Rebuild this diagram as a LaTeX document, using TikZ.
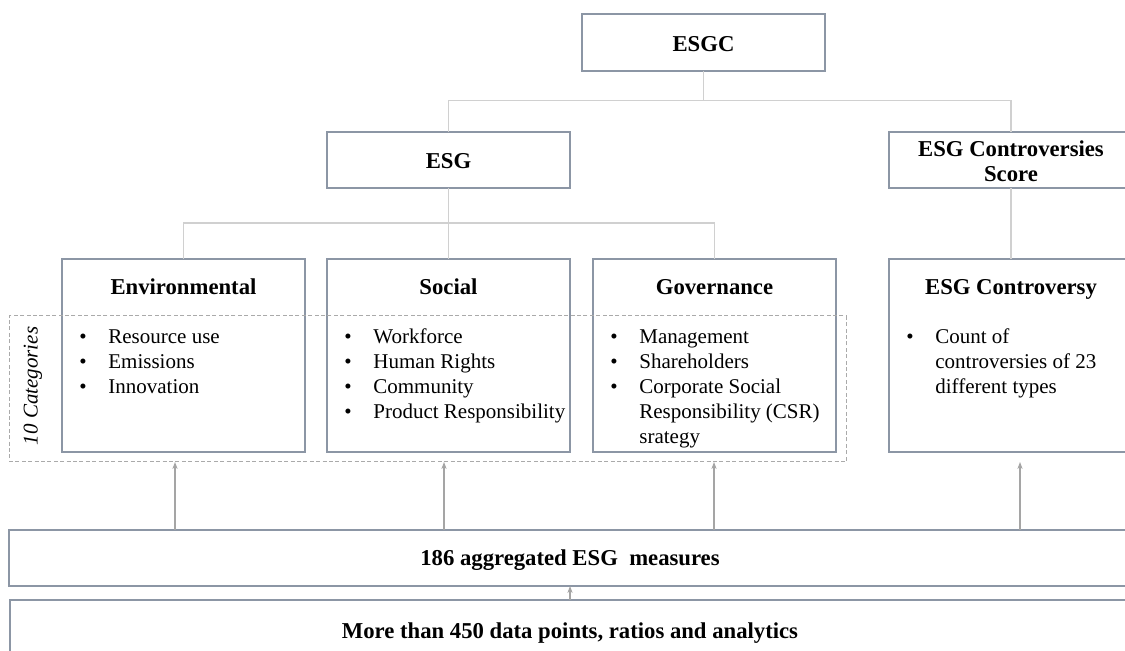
\documentclass[tikz,border=0pt]{standalone}
\usepackage{fontspec}
\setmainfont{Liberation Serif}
\usetikzlibrary{arrows.meta}
\definecolor{boxc}{RGB}{140,150,165}
\definecolor{connc}{RGB}{208,208,208}
\definecolor{arrc}{RGB}{165,165,165}
\definecolor{dashc}{RGB}{170,170,170}
\newcommand{\bul}{\makebox[14.5pt][l]{\textbullet}}
\newcommand{\nobul}{\hspace*{14.5pt}}
\begin{document}
\begin{tikzpicture}[x=0.5pt,y=-0.5pt,
  box/.style={draw=boxc,line width=1pt,inner sep=0pt,outer sep=0pt,rectangle,fill=none},
  dashbox/.style={draw=dashc,line width=0.5pt,dash pattern=on 2pt off 1.2pt,inner sep=0pt,outer sep=0pt,rectangle},
  conn/.style={draw=connc,line width=0.7pt},
  arr/.style={draw=arrc,line width=0.6pt,-{Stealth[length=3.5pt,width=2.6pt]}},
  ttl/.style={font=\fontsize{11.35}{12.5}\selectfont\bfseries,inner sep=0pt,anchor=base},
  lst/.style={font=\fontsize{10.5}{12.5}\selectfont,inner sep=0pt,anchor=base west},
]
\useasboundingbox (0,0) rectangle (1125,651);
\clip (0,0) rectangle (1125,651);

% boxes
\node[box,minimum width=121.5pt,minimum height=28.5pt] (esgc) at (703.5,42.5) {};
\node[box,minimum width=121.5pt,minimum height=28pt] (esg) at (448.5,160) {};
\node[box,minimum width=122pt,minimum height=28pt] (esgcs) at (1011,160) {};
\node[box,minimum width=121.5pt,minimum height=96.5pt] (env) at (183.5,355.5) {};
\node[box,minimum width=121.5pt,minimum height=96.5pt] (soc) at (448.5,355.5) {};
\node[box,minimum width=121.5pt,minimum height=96.5pt] (gov) at (714.5,355.5) {};
\node[box,minimum width=122pt,minimum height=96.5pt] (contr) at (1011,355.5) {};
\node[dashbox,minimum width=418.5pt,minimum height=73pt] (cat) at (427.5,389) {};
\node[box,minimum width=561pt,minimum height=28pt] (agg) at (570,558) {};
\node[box,minimum width=560pt,minimum height=30pt] (bot) at (570,630.5) {};

% titles
\node[ttl] (esgct) at (703.5,51.5) {ESGC};
\node[ttl] (esgt) at (448.5,169) {ESG};
\node[ttl] (esgcst) at (1011,157) {\begin{tabular}[t]{@{}c@{}}ESG Controversies\\Score\end{tabular}};
\node[ttl] (envt) at (183.5,295) {Environmental};
\node[ttl] (soct) at (448.5,295) {Social};
\node[ttl] (govt) at (714.5,295) {Governance};
\node[ttl] (contrt) at (1011,295) {ESG Controversy};
\node[ttl] (aggt) at (570,565.5) {186 aggregated ESG\ \ measures};
\node[ttl] (bott) at (570,639) {More than 450 data points, ratios and analytics};

% lists
\node[lst] (envl) at (79,344) {\begin{tabular}[t]{@{}l@{}}\bul Resource use\\\bul Emissions\\\bul Innovation\end{tabular}};
\node[lst] (socl) at (344,344) {\begin{tabular}[t]{@{}l@{}}\bul Workforce\\\bul Human Rights\\\bul Community\\\bul Product Responsibility\end{tabular}};
\node[lst] (govl) at (610,344) {\begin{tabular}[t]{@{}l@{}}\bul Management\\\bul Shareholders\\\bul Corporate Social\\\nobul Responsibility (CSR)\\\nobul srategy\end{tabular}};
\node[lst] (contrl) at (906,344) {\begin{tabular}[t]{@{}l@{}}\bul Count of\\\nobul controversies of 23\\\nobul different types\end{tabular}};

\node[rotate=90,inner sep=0pt,font=\fontsize{10.5}{12.5}\selectfont\itshape] (catl) at (33,386) {10 Categories};

% connectors
\coordinate (j1) at (703.5,100.7);
\coordinate (j2) at (448.5,223);
\draw[conn] (esgc.south) -- (j1);
\draw[conn] (esg.north) -- (esg.north |- j1) -- (esgcs.north |- j1) -- (esgcs.north);
\draw[conn] (esg.south) -- (soc.north);
\draw[conn] (env.north) -- (env.north |- j2) -- (gov.north |- j2) -- (gov.north);
\draw[conn] (esgcs.south) -- (contr.north);

% arrows
\coordinate (a1) at (175,462);
\coordinate (a2) at (444,462);
\coordinate (a3) at (714,462);
\coordinate (a4) at (1020,462);
\draw[arr] (a1 |- agg.north) -- (a1);
\draw[arr] (a2 |- agg.north) -- (a2);
\draw[arr] (a3 |- agg.north) -- (a3);
\draw[arr] (a4 |- agg.north) -- (a4);
\draw[arr] (bot.north) -- (agg.south);
\end{tikzpicture}
\end{document}
